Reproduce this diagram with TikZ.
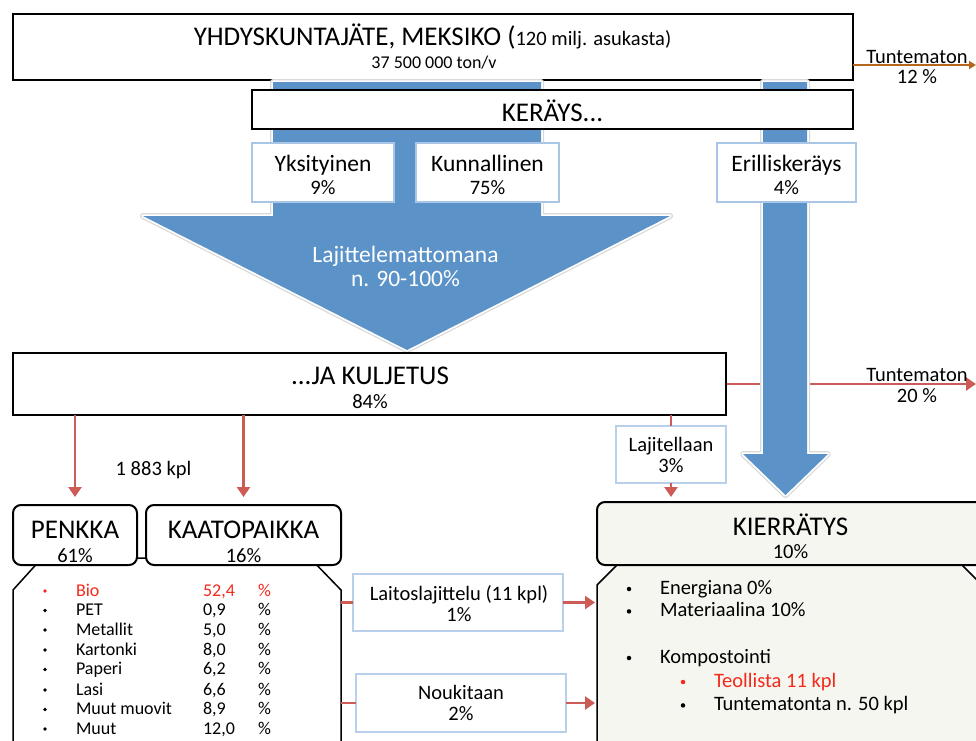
\documentclass[tikz,border=0pt]{standalone}
\usepackage{fontspec}
\setmainfont{Carlito}
\usetikzlibrary{arrows.meta}
\definecolor{bluec}{HTML}{5B93C8}
\definecolor{lbl}{HTML}{A9C6E6}
\definecolor{lbl2}{HTML}{B8D0EA}
\definecolor{redc}{HTML}{CD5C57}
\definecolor{brownc}{HTML}{B5651D}
\definecolor{redt}{HTML}{F2291B}
\definecolor{pale}{HTML}{F6F6F1}
\pgfdeclarelayer{bg}\pgfdeclarelayer{mid}
\pgfsetlayers{bg,mid,main}
\newcommand\fA{\fontsize{27}{30}\selectfont}
\newcommand\fB{\fontsize{23.5}{27}\selectfont}
\newcommand\fC{\fontsize{20.5}{24}\selectfont}
\newcommand\fD{\fontsize{18}{21}\selectfont}
\begin{document}
\begin{tikzpicture}[x=1pt,y=-1pt,
  bbox/.style={draw=black, line width=2.5pt, fill=white, inner sep=0pt, outer sep=0pt},
  rbox/.style={draw=black, line width=2pt, rounded corners=8pt, fill=white, inner sep=0pt, outer sep=0pt},
  lbox/.style={draw=lbl, line width=2pt, fill=white, inner sep=0pt, outer sep=0pt},
  lbox2/.style={draw=lbl2, line width=1.3pt, fill=white, inner sep=0pt, outer sep=0pt},
  txt/.style={anchor=base, inner sep=0pt, outer sep=0pt},
  ltxt/.style={anchor=base west, inner sep=0pt, outer sep=0pt},
  dot/.style={circle, fill, inner sep=0pt, outer sep=0pt, minimum size=#1},
  redline/.style={draw=redc, line width=2.8pt},
  redarrow/.style={draw=redc, line width=2.8pt, -{Triangle[width=13pt,length=10pt]}},
  bluefill/.style={fill=bluec,
     preaction={draw=black!15, line width=6pt, line join=round},
     preaction={draw=white, line width=3.5pt, line join=round}},
  chamf/.style={draw=black, line width=1.5pt}
]
\useasboundingbox (0,0) rectangle (976,740);

% ---------- lower list shapes ----------
\draw[chamf, fill=white] (13,760) -- (13,590) -- (42,558) -- (310,558) -- (341,590) -- (341,760);
\draw[chamf, fill=pale] (597,760) -- (597,585) -- (624,558) -- (955,558) -- (992,595) -- (992,760);

% ---------- boxes ----------
\begin{pgfonlayer}{bg}
\node[bbox, minimum width=840pt, minimum height=66pt] (top) at (433,47) {};
\end{pgfonlayer}
\node[bbox, minimum width=601pt, minimum height=39pt] (ker) at (552.5,109.5) {};
\node[lbox, minimum width=142pt, minimum height=59pt] (yks) at (323,172.5) {};
\node[lbox, minimum width=143pt, minimum height=59pt] (kun) at (487.5,172.5) {};
\node[lbox, minimum width=139pt, minimum height=59pt] (eri) at (786.5,172.5) {};
\node[bbox, minimum width=713pt, minimum height=62pt] (kulj) at (369.5,384) {};
\node[lbox2, minimum width=110pt, minimum height=57pt] (laj) at (671,454.5) {};
\node[rbox, minimum width=124pt, minimum height=60pt] (pen) at (75,535) {};
\node[rbox, minimum width=195pt, minimum height=60pt] (kaa) at (243.5,535) {};
\node[rbox, fill=pale, minimum width=393pt, minimum height=63pt] (kie) at (793.5,533.5) {};
\node[lbox2, minimum width=210pt, minimum height=57pt] (lai) at (458,602.5) {};
\node[lbox2, minimum width=210pt, minimum height=58pt] (nou) at (461,703) {};

% ---------- free ends ----------
\coordinate (e1) at (976,65);
\coordinate (e2) at (976,384);
\coordinate (e3) at (671,497);
\coordinate (pl1) at (341,602.5);
\coordinate (pl2) at (341,703);
\coordinate (kl) at (595,0);

% ---------- lines behind the blue bars ----------
\begin{pgfonlayer}{bg}
\draw[draw=brownc, line width=2pt, -{Triangle[width=8pt,length=7pt]}] ([yshift=15pt]top.south east) -- (e1);
\draw[redarrow] (kulj.east) -- (e2);
\end{pgfonlayer}

% ---------- blue flows ----------
\begin{pgfonlayer}{mid}
\path[bluefill] (273,82) -- (541,82) -- (541,216) -- (670,216) -- (407,350) -- (143,216) -- (273,216) -- cycle;
\path[bluefill] (763,82) -- (807,82) -- (807,454) -- (828,454) -- (785.5,495) -- (743,454) -- (763,454) -- cycle;
\end{pgfonlayer}

% ---------- red arrows ----------
\draw[redarrow] (kulj.south -| pen) -- ([yshift=8pt]pen.north);
\draw[redarrow] (kulj.south -| kaa) -- ([yshift=8pt]kaa.north);
\draw[redline] (kulj.south -| laj) -- (laj.north);
\draw[redarrow] (laj.south) -- (e3);
\draw[redline] (pl1) -- (lai.west);
\draw[redarrow] (lai.east) -- (lai.east -| kl);
\draw[redline] (pl2) -- (nou.west);
\draw[redarrow] (nou.east) -- (nou.east -| kl);

% ---------- texts ----------
\node[txt] (topT1) at (432.5,45) {\fA YHDYSKUNTAJÄTE, MEKSIKO (\fC 120 milj. asukasta)};
\node[txt] (topT2) at (434,68) {\fD 37 500 000 ton/v};
\node[txt] (kerT) at (552.5,121.5) {\fA KERÄYS...};
\node[txt] (yksT1) at (323,171) {\fB Yksityinen};
\node[txt] (yksT2) at (323,194) {\fC 9\%};
\node[txt] (kunT1) at (487.5,171) {\fB Kunnallinen};
\node[txt] (kunT2) at (487.5,194) {\fC 75\%};
\node[txt] (eriT1) at (786.5,171) {\fB Erilliskeräys};
\node[txt] (eriT2) at (786.5,194) {\fC 4\%};
\node[txt, text=white] (lajT1) at (405.5,262) {\fB Lajittelemattomana};
\node[txt, text=white] (lajT2) at (405.5,286) {\fB n. 90-100\%};
\node[txt] (kuljT1) at (370,384) {\fA ...JA KULJETUS};
\node[txt] (kuljT2) at (370,408) {\fC 84\%};
\node[txt] (kplT) at (153.5,475) {\fC 1 883 kpl};
\node[txt] (tun1a) at (917,63) {\fC Tuntematon};
\node[txt] (tun1b) at (917,83.3) {\fC 12 \%};
\node[txt] (tun2a) at (917,381.7) {\fC Tuntematon};
\node[txt] (tun2b) at (917,402.7) {\fC 20 \%};
\node[txt] (lajiT1) at (671,451.7) {\fC Lajitellaan};
\node[txt] (lajiT2) at (671,472.7) {\fC 3\%};
\node[txt] (penT1) at (75,538) {\fA PENKKA};
\node[txt] (penT2) at (75,562) {\fC 61\%};
\node[txt] (kaaT1) at (243.5,538) {\fA KAATOPAIKKA};
\node[txt] (kaaT2) at (243.5,562) {\fC 16\%};
\node[txt] (kieT1) at (790.5,535) {\fA KIERRÄTYS};
\node[txt] (kieT2) at (790.5,558) {\fC 10\%};
\node[txt] (laiT1) at (459,600) {\fC Laitoslajittelu (11 kpl)};
\node[txt] (laiT2) at (459,621.7) {\fC 1\%};
\node[txt] (nouT1) at (461,699) {\fC Noukitaan};
\node[txt] (nouT2) at (461,720.7) {\fC 2\%};

% ---------- composition list ----------
\foreach \n/\v/\y/\c [count=\i] in {Bio/{52,4}/596/redt, PET/{0,9}/615.5/black, Metallit/{5,0}/635/black, Kartonki/{8,0}/655/black, Paperi/{6,2}/674.5/black, Lasi/{6,6}/695/black, Muut muovit/{8,9}/714.5/black, Muut/{12,0}/734/black}{
  \node[dot=3.6pt, fill=\c] (pb\i) at (45,\y-5) {};
  \node[ltxt, text=\c] (pn\i) at (76,\y) {\fD \n};
  \node[ltxt, text=\c] (pv\i) at (203,\y) {\fD \v};
  \node[ltxt, text=\c] (pp\i) at (258,\y) {\fD \%};
}

% ---------- recycling list ----------
\node[dot=4.5pt] (kb1) at (629,589) {};
\node[ltxt] (kt1) at (660,594.3) {\fC Energiana 0\%};
\node[dot=4.5pt] (kb2) at (629,611.4) {};
\node[ltxt] (kt2) at (660,616.7) {\fC Materiaalina 10\%};
\node[dot=4.5pt] (kb3) at (629,658) {};
\node[ltxt] (kt3) at (660,663.3) {\fC Kompostointi};
\node[dot=4.5pt, fill=redt] (kb4) at (683,682) {};
\node[ltxt, text=redt] (kt4) at (714,687.3) {\fC Teollista 11 kpl};
\node[dot=4.5pt] (kb5) at (683,705.4) {};
\node[ltxt] (kt5) at (714,710.7) {\fC Tuntematonta n. 50 kpl};
\end{tikzpicture}
\end{document}
